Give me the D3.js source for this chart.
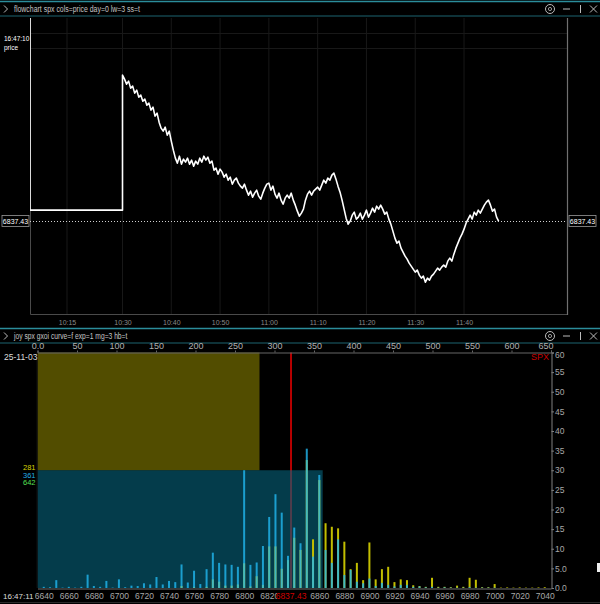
<!DOCTYPE html>
<html><head><meta charset="utf-8">
<script src="https://cdn.jsdelivr.net/npm/d3@7"></script>
<style>
html,body{margin:0;padding:0;background:#000;}
svg{display:block;font-family:"Liberation Sans",Arial,sans-serif;}
</style></head><body>
<svg id="c" width="600" height="604"></svg>
<script>
// ================= DATA =================
// top panel: flowchart spx price
const topTitle = "flowchart spx cols=price day=0 lw=3 ss=t";
const stampTop = "16:47:10";
const seriesName = "price";
const axisStart = "10:05:00";
const axisBreak = "10:30:00";
const axisEnd = "12:01:00";
const openSpike = 6880;          // first print, off the top of the chart
const flatPrice = 6839.6;        // filler level before 10:30
const priceStart = "10:30:00";
const priceStepSec = 25;
const prices = [
6866.6,6865.8,6864.8,6865.4,6864.0,6864.4,6863.0,6863.6,6862.2,6862.6,
6861.4,6861.8,6860.6,6861.0,6859.6,6860.2,6858.4,6859.0,6857.2,6856.0,
6855.4,6856.2,6854.6,6855.4,6853.4,6851.6,6850.0,6849.0,6850.4,6848.8,
6849.8,6849.2,6850.0,6848.8,6849.6,6848.4,6849.4,6848.8,6850.0,6849.2,
6850.4,6849.6,6850.2,6849.0,6849.4,6847.6,6848.0,6846.8,6847.8,6847.2,
6846.2,6846.8,6845.6,6846.2,6844.8,6845.6,6846.0,6845.0,6844.4,6844.0,
6844.8,6843.6,6842.6,6843.4,6842.2,6843.0,6843.6,6842.4,6841.8,6843.0,
6844.0,6844.8,6845.0,6843.6,6844.4,6842.8,6842.0,6843.0,6841.6,6840.8,
6842.0,6842.6,6842.0,6843.0,6841.6,6840.6,6839.4,6838.4,6839.0,6839.8,
6841.6,6842.8,6843.4,6842.6,6843.4,6843.8,6844.2,6843.6,6844.6,6845.6,
6845.0,6846.0,6845.6,6846.6,6847.0,6845.8,6844.4,6843.2,6841.6,6839.8,
6838.0,6836.8,6837.4,6838.6,6839.2,6837.8,6838.2,6839.0,6837.8,6838.6,
6839.6,6838.2,6839.0,6840.0,6839.2,6840.4,6839.8,6840.6,6839.8,6838.8,
6839.2,6837.8,6836.8,6835.4,6834.0,6833.0,6833.4,6832.0,6831.2,6830.4,
6829.8,6829.0,6828.4,6827.8,6827.2,6827.6,6826.6,6826.0,6826.4,6825.2,
6826.0,6825.6,6826.4,6826.8,6827.4,6828.0,6827.6,6828.2,6828.6,6828.2,
6829.4,6830.0,6829.4,6830.8,6832.0,6833.0,6834.0,6834.8,6835.8,6837.0,
6837.8,6838.6,6837.8,6839.2,6838.6,6839.6,6839.0,6839.8,6840.6,6841.2,
6841.6,6840.6,6839.4,6839.8,6838.2,6837.4];
const lastPrice = 6837.43;
const priceDomain = [6818.83, 6878.03];
const timeTicks = ["10:15","10:30","10:40","10:50","11:00","11:10","11:20","11:30","11:40"];
const gridPrices = [6875, 6872];

// bottom panel: joy spx gxoi
const botTitle = "joy spx gxoi curve=f exp=1 mg=3 hb=t";
const dateLabel = "25-11-03";
const stampBot = "16:47:11";
const symbol = "SPX";
const strikes = [6640,6645,6650,6655,6660,6665,6670,6675,6680,6685,6690,6695,6700,6705,6710,6715,6720,6725,6730,6735,
6740,6745,6750,6755,6760,6765,6770,6775,6780,6785,6790,6795,6800,6805,6810,6815,6820,6825,6830,6835,
6840,6845,6850,6855,6860,6865,6870,6875,6880,6885,6890,6895,6900,6905,6910,6915,6920,6925,6930,6935,
6940,6945,6950,6955,6960,6965,6970,6975,6980,6985,6990,6995,7000,7005,7010,7015,7020,7025,7030,7035,7040];
const putValues = [0.3,0.2,2.0,0.1,0.3,0.1,0.3,3.4,0.5,0.3,1.8,0.1,2.2,0.2,0.6,0.5,1.2,0.9,2.8,0.9,
1.8,1.5,6.0,1.4,4.4,1.0,4.8,9.0,6.4,6.0,5.9,5.4,30.0,5.9,6.5,10.7,18.1,23.9,19.2,8.2,
15.4,11.4,35.5,8.0,28.8,9.7,6.4,12.4,3.3,4.6,1.6,1.2,2.4,0.5,1.3,0.8,0.4,0.8,0.8,0.3,
0.4,0.2,0.3,0.1,0.2,0.1,0.1,0.1,0.2,0.1,0.1,0.1,0.1,0,0,0,0,0,0,0,0];
const callValues = [0,0,0,0,0,0,0,0,0,0,0,0,0,0,0,0,0,0,0,0,
0,0,0.5,0,0.3,0,0.3,2.2,1.6,0.6,0.6,0.9,6.3,0.4,3.0,0.8,10.6,10.6,4.9,7.1,
12.8,9.7,32.6,12.4,27.5,16.5,15.6,15.2,11.8,4.8,6.4,2.0,11.6,2.2,4.8,5.4,1.5,2.2,2.0,0.7,
0.5,0.3,2.6,0.3,0.3,0.2,0.6,0.3,2.6,2.1,0.2,0.2,1.0,0.1,0.15,0.1,0.15,0.1,0.1,0.15,0.2];
const callTotal = 281, putTotal = 361, allTotal = 642;
// 6840 label sits under the current-price tag, so it is not shown
const strikeTicks = [6640,6660,6680,6700,6720,6740,6760,6780,6800,6820,6860,6880,6900,6920,6940,6960,6980,7000,7020,7040];
const sumTicks = [0,50,100,150,200,250,300,350,400,450,500,550,600,650];
const valueTicks = [0,5,10,15,20,25,30,35,40,45,50,55,60];

// ================= DRAW =================
const svg = d3.select("#c");
svg.append("rect").attr("width",600).attr("height",604).attr("fill","#000");
const toMin = s => { const a = s.split(":").map(Number); return a[0]*60 + a[1] + (a[2]||0)/60; };

function header(y0, title){
  const g = svg.append("g");
  g.append("line").attr("x1",0).attr("x2",600).attr("y1",y0+0.5).attr("y2",y0+0.5).attr("stroke","#2b8d9b").attr("stroke-width",1.5);
  g.append("line").attr("x1",0).attr("x2",600).attr("y1",y0+15).attr("y2",y0+15).attr("stroke","#1d6570").attr("stroke-width",1.2);
  g.append("path").attr("d",`M4,${y0+4.5} L7.5,${y0+8} L4,${y0+11.5}`).attr("fill","none").attr("stroke","#bbb").attr("stroke-width",1);
  g.append("text").attr("x",14).attr("y",y0+11).attr("fill","#c4c4c4").attr("font-size",8.5)
    .attr("textLength", title.length*3.15).attr("lengthAdjust","spacingAndGlyphs").text(title);
  g.append("circle").attr("cx",550).attr("cy",y0+8).attr("r",4.5).attr("fill","none").attr("stroke","#bbb").attr("stroke-width",1);
  g.append("circle").attr("cx",550).attr("cy",y0+8).attr("r",1.6).attr("fill","none").attr("stroke","#bbb").attr("stroke-width",0.8);
  g.append("line").attr("x1",563).attr("x2",570).attr("y1",y0+8).attr("y2",y0+8).attr("stroke","#bbb");
  g.append("line").attr("x1",580.5).attr("x2",580.5).attr("y1",y0+4).attr("y2",y0+12).attr("stroke","#bbb");
  g.append("path").attr("d",`M590,${y0+4.5} L597,${y0+11.5} M597,${y0+4.5} L590,${y0+11.5}`).attr("stroke","#bbb").attr("stroke-width",1);
}
header(1, topTitle);
header(328, botTitle);

// ---------- top panel ----------
const T = {l:30, r:567, t:18, b:314};
const xT = d3.scaleLinear().domain([toMin(axisStart), toMin(axisBreak), toMin(axisEnd)]).range([T.l, 122.5, 566.5]);
const yT = d3.scaleLinear().domain(priceDomain).range([T.b, T.t]);

const gt = svg.append("g");
gt.selectAll("line.vg").data(timeTicks).join("line").attr("class","vg")
  .attr("x1",d=>xT(toMin(d))).attr("x2",d=>xT(toMin(d))).attr("y1",T.t).attr("y2",T.b)
  .attr("stroke","#181818").attr("stroke-width",1);
gt.selectAll("line.hg").data(gridPrices).join("line").attr("class","hg")
  .attr("x1",T.l).attr("x2",T.r).attr("y1",d=>Math.round(yT(d))+0.5).attr("y2",d=>Math.round(yT(d))+0.5)
  .attr("stroke","#181818").attr("stroke-width",1);
// frame
gt.append("path").attr("d",`M${T.l+0.5},${T.t} V${T.b+0.5} H${T.r}`).attr("fill","none").attr("stroke","#4a4a4a").attr("stroke-width",1);
gt.append("line").attr("x1",T.r+0.5).attr("x2",T.r+0.5).attr("y1",T.t).attr("y2",T.b+1).attr("stroke","#707070").attr("stroke-width",1.2);

// time axis labels
const axT = d3.axisBottom(xT).tickValues(timeTicks.map(toMin)).tickSize(0)
  .tickFormat((d,i)=>timeTicks[i]);
const gax = svg.append("g").attr("transform",`translate(0,${T.b+3})`).call(axT);
gax.select(".domain").remove();
gax.selectAll("text").attr("fill","#8a8a8a").attr("font-size",7).attr("font-family","Liberation Sans, Arial, sans-serif");

// current price dotted line
gt.append("line").attr("x1",T.l).attr("x2",T.r).attr("y1",Math.round(yT(lastPrice))+0.5).attr("y2",Math.round(yT(lastPrice))+0.5)
  .attr("stroke","#d0d0d0").attr("stroke-width",1).attr("stroke-dasharray","1,2");

// price line
svg.append("clipPath").attr("id","clipT").append("rect").attr("x",T.l).attr("y",T.t).attr("width",T.r-T.l).attr("height",T.b-T.t);
const t0 = toMin(priceStart);
const pts = [{t:toMin(axisStart),p:openSpike},{t:toMin(axisStart),p:flatPrice},{t:t0,p:flatPrice}]
  .concat(prices.map((p,i)=>({t:t0+i*priceStepSec/60,p})));
gt.append("path").datum(pts).attr("clip-path","url(#clipT)")
  .attr("d",d3.line().x(d=>xT(d.t)).y(d=>yT(d.p)))
  .attr("fill","none").attr("stroke","#ffffff").attr("stroke-width",1.6).attr("stroke-linejoin","round");

// price tags
function tag(cx, cy, txt){
  const g = svg.append("g");
  g.append("rect").attr("x",cx-13.5).attr("y",cy-5.5).attr("width",27).attr("height",11)
    .attr("fill","#000").attr("stroke","#9a9a9a").attr("stroke-width",0.8);
  g.append("text").attr("x",cx).attr("y",cy+2.6).attr("text-anchor","middle").attr("fill","#fff")
    .attr("font-size",7).text(txt);
}
tag(15.5, yT(lastPrice), lastPrice.toFixed(2));
tag(582.5, yT(lastPrice), lastPrice.toFixed(2));

svg.append("text").attr("x",4).attr("y",41).attr("fill","#fff").attr("font-size",6.5).text(stampTop);
svg.append("text").attr("x",4).attr("y",50).attr("fill","#fff").attr("font-size",6.5).text(seriesName);

// ---------- bottom panel ----------
const B = {l:37.5, r:551, t:352.5, b:588};
const xB = d3.scaleLinear().domain([6635, 7045]).range([B.l, B.r]);
const xS = d3.scaleLinear().domain([0, 650]).range([B.l, B.r]);
const yB = d3.scaleLinear().domain([0, 60]).range([B.b, B.t]);
const mid = yB.domain()[1]/2;

const gb = svg.append("g");
gb.append("rect").attr("x",xS(0)).attr("y",yB(60)).attr("width",xS(callTotal)-xS(0)).attr("height",yB(mid)-yB(60))
  .attr("fill","#524d00");
gb.append("line").attr("x1",xB(lastPrice)).attr("x2",xB(lastPrice)).attr("y1",B.t).attr("y2",B.b)
  .attr("stroke","#b80000").attr("stroke-width",2);
gb.append("rect").attr("x",xS(0)).attr("y",yB(mid)).attr("width",xS(putTotal)-xS(0)).attr("height",yB(0)-yB(mid))
  .attr("fill","#07647d").attr("opacity",0.6);

const bars = strikes.map((s,i)=>({s, c:callValues[i], p:putValues[i]}));
gb.selectAll("rect.call").data(bars).join("rect").attr("class","call")
  .attr("x",d=>xB(d.s)-1).attr("width",2).attr("y",d=>yB(d.c)).attr("height",d=>yB(0)-yB(d.c))
  .attr("fill","#c2be00");
gb.selectAll("rect.put").data(bars).join("rect").attr("class","put")
  .attr("x",d=>xB(d.s)-1).attr("width",2).attr("y",d=>yB(d.p)).attr("height",d=>yB(0)-yB(d.p))
  .attr("fill","#22b8f0").attr("opacity",0.8);

// left edge line
gb.append("line").attr("x1",B.l-0.5).attr("x2",B.l-0.5).attr("y1",B.t).attr("y2",B.b).attr("stroke","#111");

// right axis
const axR = d3.axisRight(yB).tickValues(valueTicks).tickSize(2.5).tickPadding(1)
  .tickFormat(d => d < 10 ? d.toFixed(1) : String(d));
const gR = svg.append("g").attr("transform",`translate(${B.r+0.5},0)`).call(axR);
gR.select(".domain").attr("stroke","#808080");
gR.selectAll(".tick line").attr("stroke","#808080");
gR.selectAll("text").attr("fill","#a8a8a8").attr("font-size",8.5).attr("font-family","Liberation Sans, Arial, sans-serif");
gR.selectAll(".tick").filter(d=>d===60).select("text").attr("dy","0.62em");

// top axis (sums)
const axS = d3.axisTop(xS).tickValues(sumTicks).tickSize(2).tickPadding(1.5)
  .tickFormat(d => d === 0 ? "0.0" : String(d));
const gS = svg.append("g").attr("transform",`translate(0,${B.t})`).call(axS);
gS.select(".domain").attr("stroke","#666");
gS.selectAll(".tick line").attr("stroke","#666");
gS.selectAll("text").attr("fill","#b0b0b0").attr("font-size",9).attr("font-family","Liberation Sans, Arial, sans-serif");
gS.selectAll(".tick").filter(d=>d===650).select("text").attr("text-anchor","end").attr("dx","2");

// bottom axis (strikes)
const axB = d3.axisBottom(xB).tickValues(strikeTicks).tickSize(0).tickPadding(4).tickFormat(d3.format("d"));
const gB = svg.append("g").attr("transform",`translate(0,${B.b+0.5})`).call(axB);
gB.select(".domain").attr("stroke","#707070");
gB.selectAll("text").attr("fill","#a8a8a8").attr("font-size",8.5).attr("font-family","Liberation Sans, Arial, sans-serif");

// current price tag on bottom axis
const px = xB(lastPrice);
svg.append("rect").attr("x",px-14).attr("y",590).attr("width",29).attr("height",11).attr("fill","#000");
svg.append("text").attr("x",px).attr("y",598.5).attr("text-anchor","middle").attr("fill","#d00000")
  .attr("font-size",8.5).text(lastPrice.toFixed(2));

// labels
svg.append("text").attr("x",B.r-2).attr("y",360).attr("text-anchor","end").attr("fill","#c80000").attr("font-size",9).text(symbol);
svg.append("text").attr("x",4).attr("y",360).attr("fill","#dcdcdc").attr("font-size",8.5).text(dateLabel);
svg.append("rect").attr("x",0).attr("y",591).attr("width",35).attr("height",10).attr("fill","#000");
svg.append("text").attr("x",3).attr("y",598.5).attr("fill","#dcdcdc").attr("font-size",8).text(stampBot);
const totals = [{v:callTotal,c:"#d8d400",y:470},{v:putTotal,c:"#22aee6",y:477.5},{v:allTotal,c:"#55e055",y:485}];
svg.selectAll("text.tot").data(totals).join("text").attr("class","tot")
  .attr("x",35.5).attr("y",d=>d.y).attr("text-anchor","end").attr("fill",d=>d.c).attr("font-size",7.5).text(d=>d.v);

// clipped UI bits at far right
svg.append("rect").attr("x",597).attr("y",563).attr("width",3).attr("height",9).attr("fill","#eee");
svg.append("line").attr("x1",0).attr("x2",600).attr("y1",602.5).attr("y2",602.5).attr("stroke","#2a2a2a");
</script>
</body></html>
